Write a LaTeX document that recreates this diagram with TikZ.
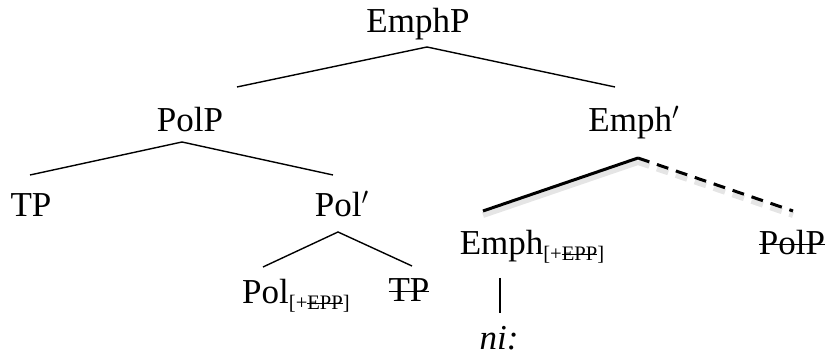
\documentclass[tikz,border=0pt]{standalone}
\usepackage{fontspec}
\setmainfont{Liberation Serif}
% struck-out text (deleted copies, checked features)
\newsavebox{\strikebox}
\newcommand{\struck}[1]{\sbox{\strikebox}{#1}\rlap{\rule[0.28em]{\wd\strikebox}{0.6pt}}\usebox{\strikebox}}
\newcommand{\feat}{\raisebox{-3pt}{\fontsize{10.3}{10}\selectfont[+\struck{EPP}]}}
\tikzset{
  cat/.style={anchor=base,inner sep=0pt,font=\fontsize{17.5}{20}\selectfont},
  branch/.style={line width=0.7pt,color=black},
  hbranch/.style={line width=1.5pt,color=black},
  dbranch/.style={hbranch,dash pattern=on 6pt off 4pt},
  glow/.style={line width=3pt,color=black!10,transform canvas={yshift=-2pt}},
}

\begin{document}
\begin{tikzpicture}[x=0.5pt,y=-0.5pt]
  \useasboundingbox (0,0) rectangle (826,356);

  % categories
  \node[cat] (emphP) at (418,33) {EmphP};
  \node[cat] (polP) at (190,132) {PolP};
  \node[cat] (emphBar) at (634,132) {Emph$'$};
  \node[cat] (tp) at (31,217) {TP};
  \node[cat] (polBar) at (342,217) {Pol$'$};
  \node[cat] (emphHead) at (532,255) {Emph\feat};
  \node[cat] (polPdel) at (792,255) {\struck{PolP}};
  \node[cat] (polHead) at (296,304) {Pol\feat};
  \node[cat] (tpDel) at (409,302) {\struck{TP}};
  \node[cat] (ni) at (499,350) {\textit{ni:}};

  % branches
  \draw[branch] ([shift={(47,-45)}]polP.base) -- ([shift={(9,14)}]emphP.base)
    -- ([shift={(-19,-45)}]emphBar.base);
  \draw[branch] ([shift={(-1,-42)}]tp.base) -- ([shift={(-8,10)}]polP.base)
    -- ([shift={(-9,-42)}]polBar.base);
  \draw[branch] ([shift={(-33,-37)}]polHead.base) -- ([shift={(-4,15)}]polBar.base)
    -- ([shift={(3,-36)}]tpDel.base);
  \draw[branch] ([shift={(-32,23)}]emphHead.base) -- ([shift={(1,-37)}]ni.base);

  % moved PolP: heavy branches with a soft shadow
  \draw[glow] ([shift={(-49,-44)}]emphHead.base) -- ([shift={(4,26)}]emphBar.base);
  \draw[glow,dash pattern=on 6pt off 4pt] ([shift={(4,26)}]emphBar.base) -- ([shift={(1,-44)}]polPdel.base);
  \draw[hbranch] ([shift={(-49,-44)}]emphHead.base) -- ([shift={(4,26)}]emphBar.base);
  \draw[dbranch] ([shift={(4,26)}]emphBar.base) -- ([shift={(1,-44)}]polPdel.base);
\end{tikzpicture}
\end{document}
